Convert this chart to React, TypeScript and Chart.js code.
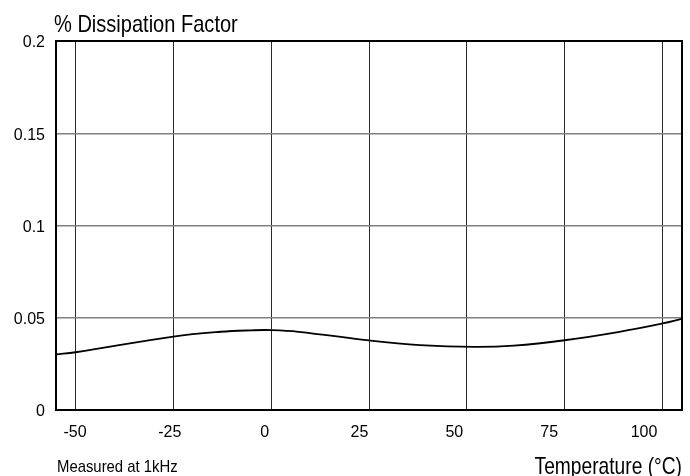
import React, { useEffect, useRef } from 'react';
import { Chart, registerables } from 'chart.js';

Chart.register(...registerables);

const temperatures = [-55, -50, -25, -13, -5, 0, 7, 25, 38, 52, 62, 75, 89, 100, 105];
const dissipation = [0.0301, 0.0313, 0.0398, 0.0424, 0.0432, 0.0433, 0.0424, 0.0377, 0.0352, 0.0342, 0.0349, 0.0378, 0.0424, 0.0469, 0.0494];
const xGridValues = [-50, -25, 0, 25, 50, 75, 100];
const xTickLabels = ['-50', '-25', '0', '25', '50', '75', '100'];
const yTickValues = [0, 0.05, 0.1, 0.15, 0.2];
const yTickLabels = ['0', '0.05', '0.1', '0.15', '0.2'];
const chartTitle = '% Dissipation Factor';
const xAxisTitle = 'Temperature (°C)';
const footNote = 'Measured at 1kHz';

const FAMILY = '"Liberation Sans", Arial, sans-serif';

function drawCondensed(ctx: any, text: string, x: number, y: number, size: number, align: string, sx: number) {
  ctx.save();
  ctx.translate(x, y);
  ctx.scale(sx, 1);
  ctx.font = `${size}px ${FAMILY}`;
  ctx.textAlign = align;
  ctx.textBaseline = 'alphabetic';
  ctx.fillText(text, 0, 0);
  ctx.restore();
}

const decorations = {
  id: 'decorations',
  afterDraw(chart: any) {
    const { ctx, chartArea: a } = chart;
    ctx.save();
    ctx.strokeStyle = '#000';
    ctx.lineWidth = 2;
    ctx.strokeRect(a.left, a.top, a.right - a.left, a.bottom - a.top);
    ctx.fillStyle = '#000';
    drawCondensed(ctx, chartTitle, a.left - 2, a.top - 9, 24, 'left', 0.835);
    drawCondensed(ctx, xAxisTitle, a.right, chart.height - 2, 24, 'right', 0.8);
    drawCondensed(ctx, footNote, a.left + 1, chart.height - 4, 17, 'left', 0.875);
    ctx.restore();
  },
};

export default function App() {
  const canvasRef = useRef<HTMLCanvasElement | null>(null);

  useEffect(() => {
    const canvas = canvasRef.current;
    if (!canvas) return;
    const chart = new Chart(canvas, {
      type: 'line',
      data: {
        datasets: [
          {
            data: temperatures.map((t, i) => ({ x: t, y: dissipation[i] })),
            borderColor: '#000',
            borderWidth: 1.8,
            pointRadius: 0,
            fill: false,
            tension: 0.4,
            xAxisID: 'x',
            yAxisID: 'y',
          },
        ],
      },
      options: {
        animation: false,
        responsive: true,
        maintainAspectRatio: false,
        layout: { padding: { top: 41, right: 8, left: 0, bottom: 0 } },
        plugins: { legend: { display: false }, tooltip: { enabled: false }, title: { display: false } },
        scales: {
          x: {
            type: 'linear',
            position: 'bottom',
            min: -55,
            max: 105,
            afterBuildTicks: (s: any) => {
              s.ticks = xGridValues.map((v) => ({ value: v }));
            },
            afterFit: (s: any) => {
              s.height = 0;
            },
            ticks: { display: false },
            grid: { color: '#2a2a2a', lineWidth: 1, drawTicks: false },
            border: { display: false },
          },
          x2: {
            type: 'linear',
            position: 'bottom',
            min: -55,
            max: 110,
            afterBuildTicks: (s: any) => {
              s.ticks = xGridValues.map((v) => ({ value: v }));
            },
            afterFit: (s: any) => {
              s.height = 66;
            },
            ticks: {
              color: '#000',
              padding: 13,
              font: { size: 16, family: FAMILY },
              maxRotation: 0,
              autoSkip: false,
              callback: (v: any) => xTickLabels[xGridValues.indexOf(Number(v))],
            },
            grid: { display: false, drawTicks: false },
            border: { display: false },
          },
          y: {
            type: 'linear',
            position: 'left',
            min: 0,
            max: 0.2,
            afterBuildTicks: (s: any) => {
              s.ticks = yTickValues.map((v) => ({ value: v }));
            },
            afterFit: (s: any) => {
              s.width = 0;
            },
            ticks: { display: false },
            grid: { color: '#808080', lineWidth: 1.5, drawTicks: false },
            border: { display: false },
          },
          y2: {
            type: 'linear',
            position: 'left',
            min: 0.0011,
            max: 0.2011,
            afterBuildTicks: (s: any) => {
              s.ticks = yTickValues.map((v) => ({ value: v }));
            },
            afterFit: (s: any) => {
              s.width = 56;
            },
            ticks: {
              color: '#000',
              padding: 11,
              font: { size: 16, family: FAMILY },
              autoSkip: false,
              callback: (v: any) => yTickLabels[yTickValues.indexOf(Number(v))],
            },
            grid: { display: false, drawTicks: false },
            border: { display: false },
          },
        },
      },
      plugins: [decorations],
    } as any);
    return () => chart.destroy();
  }, []);

  return (
    <div style={{ position: 'fixed', left: 0, top: 0, width: 690, height: 476, background: '#fff' }}>
      <canvas ref={canvasRef} />
    </div>
  );
}
